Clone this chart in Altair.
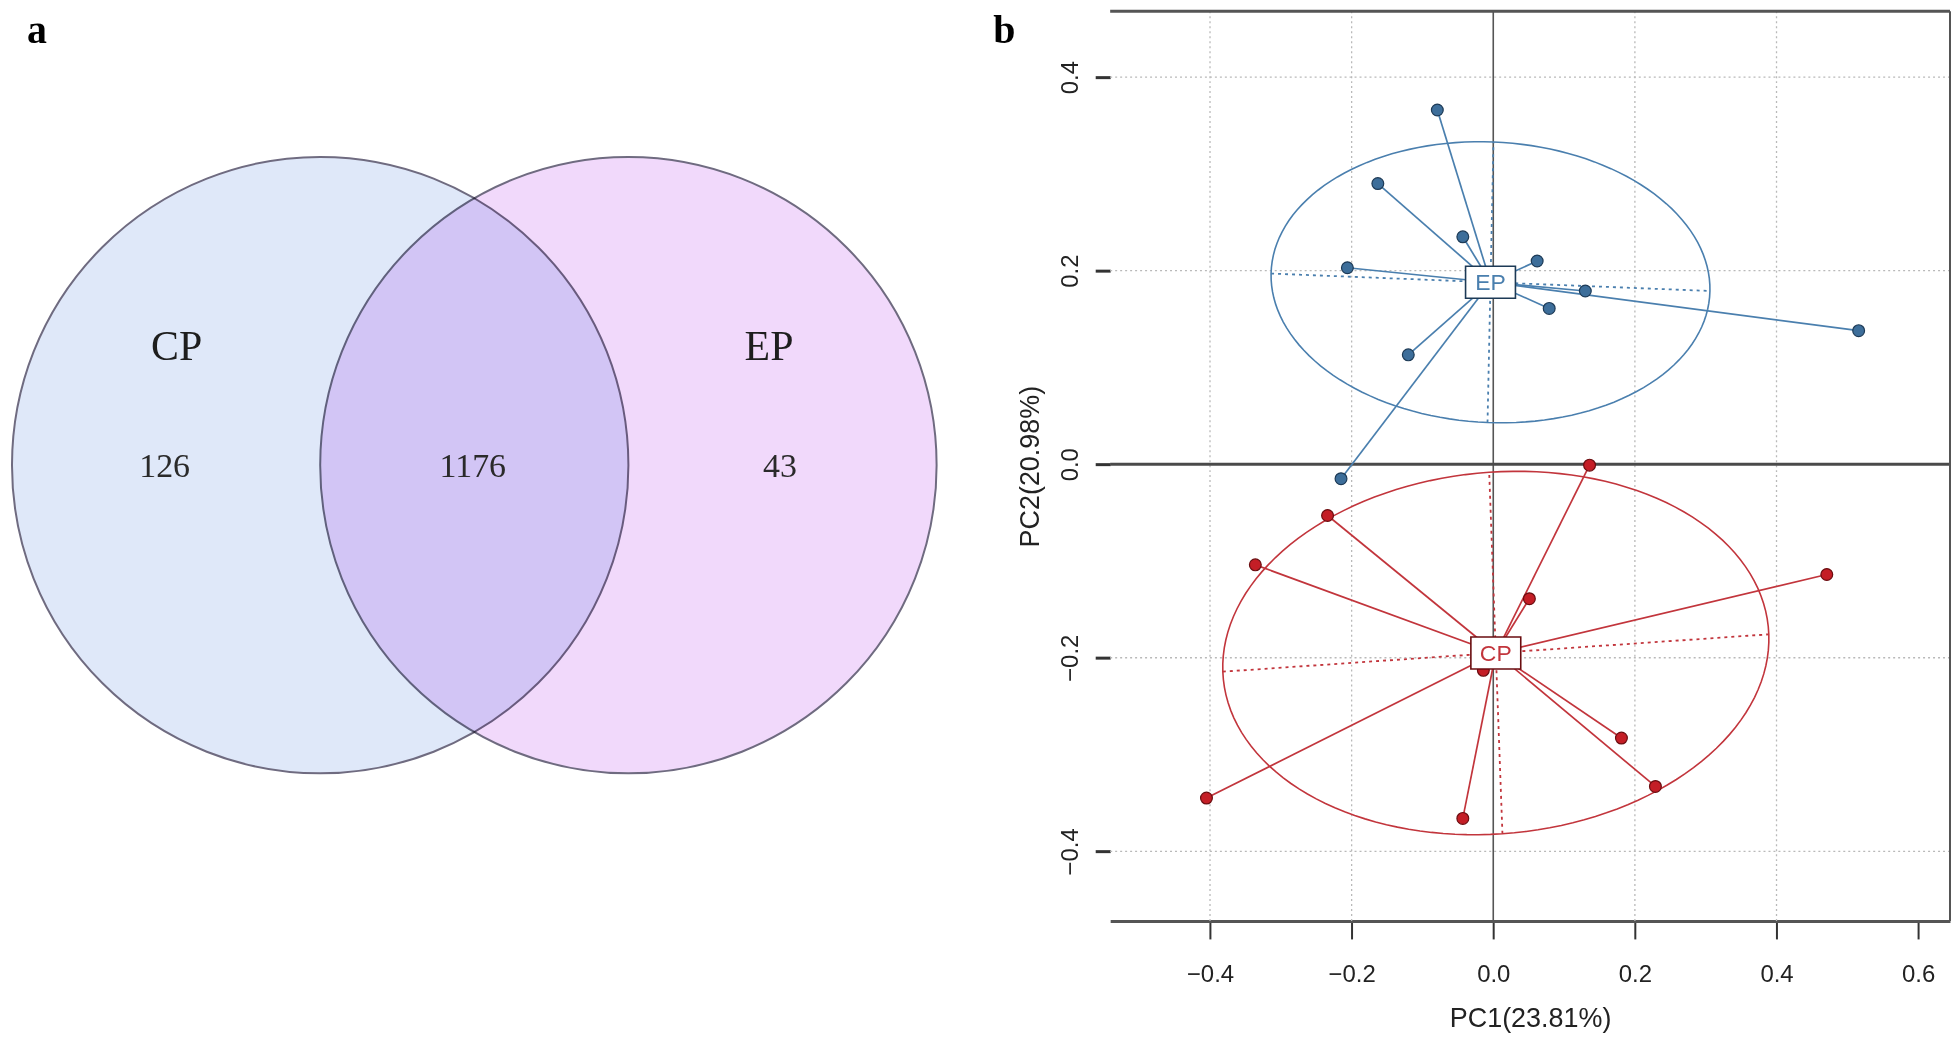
import altair as alt
import numpy as np
import pandas as pd

# ---------------- data: panel a (Venn) ----------------
venn_sets = ["CP", "EP"]
venn_unique = [126, 43]
venn_shared = 1176

# ---------------- data: panel b (PCA) ----------------
pc1_title = "PC1(23.81%)"
pc2_title = "PC2(20.98%)"
groups = ["EP", "CP"]
ep_pc1 = [-0.079, -0.163, -0.043, -0.206, 0.062, 0.130, 0.079, -0.120, 0.516, -0.215]
ep_pc2 = [0.366, 0.290, 0.235, 0.203, 0.210, 0.179, 0.161, 0.113, 0.138, -0.015]
cp_pc1 = [0.136, -0.234, -0.336, 0.051, 0.471, -0.014, 0.181, 0.229, -0.043, -0.405]
cp_pc2 = [-0.001, -0.053, -0.104, -0.139, -0.114, -0.213, -0.283, -0.333, -0.366, -0.345]
# ordiellipse: semi-axes (PC units) and tilt (radians)
ellipse_a = [0.31, 0.386]
ellipse_b = [0.145, 0.187]
ellipse_tilt = [-0.029, 0.05]
x_ticks = [-0.4, -0.2, 0.0, 0.2, 0.4, 0.6]
y_ticks = [-0.4, -0.2, 0.0, 0.2, 0.4]
grid_x = [-0.4, -0.2, 0.2, 0.4]
grid_y = [-0.4, -0.2, 0.2, 0.4]

# ---------------- styles ----------------
SANS = "Liberation Sans"
SERIF = "Liberation Serif"
line_col = {"EP": "#4a7fae", "CP": "#c2353c"}
pt_fill = {"EP": "#3d6e9a", "CP": "#c41e26"}
pt_stroke = {"EP": "#1d3a56", "CP": "#6a0d10"}

# ======================= panel a =======================
WA, HA = 950, 912
ax_a = alt.Scale(domain=[8, 8 + WA], nice=False, zero=False)
ay_a = alt.Scale(domain=[8 + HA, 8], nice=False, zero=False)
R = 309
circles = pd.DataFrame({
    "set": venn_sets,
    "cx": [318, 627],
    "cy": [463, 463],
    "fill": ["#dfe8f9", "#f1d9fb"],
})


def AX(f):
    return alt.X(f, type="quantitative", scale=ax_a, axis=None)


def AY(f):
    return alt.Y(f, type="quantitative", scale=ay_a, axis=None)


venn_circles = alt.Chart(circles).mark_point(
    shape="circle", filled=True, size=(2 * R) ** 2, opacity=1,
    stroke="#6f6b80", strokeWidth=2, blend="multiply"
).encode(
    x=AX("cx"), y=AY("cy"),
    fill=alt.Fill("fill:N", scale=None),
    order=alt.Order("cx:Q"),
)

set_labels = pd.DataFrame({"label": venn_sets, "x": [174, 768], "y": [345, 345]})
venn_set_text = alt.Chart(set_labels).mark_text(
    font=SERIF, fontSize=42, color="#1e1e1e", align="center", baseline="middle"
).encode(x=AX("x"), y=AY("y"), text="label:N")

counts = pd.DataFrame({
    "n": [venn_unique[0], venn_shared, venn_unique[1]],
    "x": [162, 471, 779],
    "y": [465, 465, 465],
})
venn_count_text = alt.Chart(counts).mark_text(
    font=SERIF, fontSize=34, color="#2a2a2a", align="center", baseline="middle"
).encode(x=AX("x"), y=AY("y"), text="n:N")

tags = pd.DataFrame({"tag": ["a", "b"], "x": [34, 1004], "y": [28, 28]})
tag_text = alt.Chart(tags).mark_text(
    font=SERIF, fontSize=40, fontWeight="bold", color="#000", align="center", baseline="middle"
).encode(x=AX("x"), y=AY("y"), text="tag:N")

panel_a = alt.layer(venn_circles, venn_set_text, venn_count_text, tag_text).properties(
    width=WA, height=HA
)

# ======================= panel b =======================
WB, HB = 842, 912
xs = alt.Scale(domain=[-0.541, 0.645], nice=False, zero=False)
ys = alt.Scale(domain=[-0.472, 0.468], nice=False, zero=False)

xaxis = alt.Axis(
    values=x_ticks, format=".1f", title=pc1_title, grid=False,
    domain=True, domainColor="#555555", domainWidth=3,
    ticks=True, tickSize=18, tickWidth=2, tickColor="#333333",
    labelFont=SANS, labelFontSize=24, labelColor="#222222", labelPadding=24,
    labelFlush=False, labelOverlap=False,
    titleFont=SANS, titleFontSize=27, titleFontWeight="normal", titleColor="#222222",
    titlePadding=19,
)
yaxis = alt.Axis(
    values=y_ticks, format=".1f", title=pc2_title, grid=False,
    domain=False, ticks=True, tickSize=15, tickWidth=3, tickColor="#333333",
    labelFont=SANS, labelFontSize=24, labelColor="#222222", labelPadding=13,
    labelAngle=-90, labelAlign="center", labelBaseline="bottom",
    labelFlush=False, labelOverlap=False,
    titleFont=SANS, titleFontSize=27, titleFontWeight="normal", titleColor="#222222",
    titlePadding=14,
)


def BX(f):
    return alt.X(f, type="quantitative", scale=xs, axis=xaxis)


def BY(f):
    return alt.Y(f, type="quantitative", scale=ys, axis=yaxis)


pts = pd.DataFrame({
    "group": ["EP"] * len(ep_pc1) + ["CP"] * len(cp_pc1),
    "x": ep_pc1 + cp_pc1,
    "y": ep_pc2 + cp_pc2,
})
cent = pts.groupby("group", sort=False)[["x", "y"]].mean().reset_index()
cent = cent.rename(columns={"x": "cx", "y": "cy"})
spider = pts.merge(cent, on="group")

# ellipse outlines and their axes
ell_rows, axis_rows = [], []
t = np.linspace(0, 2 * np.pi, 145)
for gi, g in enumerate(groups):
    c = cent[cent.group == g].iloc[0]
    a, b, th = ellipse_a[gi], ellipse_b[gi], ellipse_tilt[gi]
    ex = c.cx + a * np.cos(th) * np.cos(t) - b * np.sin(th) * np.sin(t)
    ey = c.cy + a * np.sin(th) * np.cos(t) + b * np.cos(th) * np.sin(t)
    for i, (u, v) in enumerate(zip(ex, ey)):
        ell_rows.append({"group": g, "i": i, "x": u, "y": v})
    axis_rows.append({"group": g, "x": c.cx - a * np.cos(th), "y": c.cy - a * np.sin(th),
                      "x2": c.cx + a * np.cos(th), "y2": c.cy + a * np.sin(th)})
    axis_rows.append({"group": g, "x": c.cx + b * np.sin(th), "y": c.cy - b * np.cos(th),
                      "x2": c.cx - b * np.sin(th), "y2": c.cy + b * np.cos(th)})
ell = pd.DataFrame(ell_rows)
ell_axes = pd.DataFrame(axis_rows)

col_scale = alt.Scale(domain=groups, range=[line_col[g] for g in groups])
fill_scale = alt.Scale(domain=groups, range=[pt_fill[g] for g in groups])
stroke_scale = alt.Scale(domain=groups, range=[pt_stroke[g] for g in groups])

grid_v = alt.Chart(pd.DataFrame({"x": grid_x})).mark_rule(
    color="#b9b9b9", strokeWidth=1.3, strokeDash=[2, 3]
).encode(x=BX("x"))
grid_h = alt.Chart(pd.DataFrame({"y": grid_y})).mark_rule(
    color="#b9b9b9", strokeWidth=1.3, strokeDash=[2, 3]
).encode(y=BY("y"))
zero_v = alt.Chart(pd.DataFrame({"x": [0.0]})).mark_rule(
    color="#555555", strokeWidth=1.6
).encode(x=BX("x"))
zero_h = alt.Chart(pd.DataFrame({"y": [0.0]})).mark_rule(
    color="#4a4a4a", strokeWidth=3
).encode(y=BY("y"))

ell_axis_layer = alt.Chart(ell_axes).mark_rule(strokeWidth=1.8, strokeDash=[3, 4]).encode(
    x=BX("x"), y=BY("y"), x2="x2:Q", y2="y2:Q",
    color=alt.Color("group:N", scale=col_scale, legend=None),
)
ell_layer = alt.Chart(ell).mark_line(strokeWidth=1.6).encode(
    x=BX("x"), y=BY("y"), order="i:Q",
    color=alt.Color("group:N", scale=col_scale, legend=None),
    detail="group:N",
)
spider_layer = alt.Chart(spider).mark_rule(strokeWidth=1.7).encode(
    x=BX("cx"), y=BY("cy"), x2="x:Q", y2="y:Q",
    color=alt.Color("group:N", scale=col_scale, legend=None),
)
point_layer = alt.Chart(pts).mark_point(
    shape="circle", filled=True, size=140, opacity=1, strokeWidth=1.2
).encode(
    x=BX("x"), y=BY("y"),
    fill=alt.Fill("group:N", scale=fill_scale, legend=None),
    stroke=alt.Stroke("group:N", scale=stroke_scale, legend=None),
)
box_layer = alt.Chart(cent).mark_point(
    shape="M-1.5625,-1H1.5625V1H-1.5625Z", size=1024, filled=True,
    fill="white", opacity=1, strokeWidth=1.6
).encode(
    x=BX("cx"), y=BY("cy"),
    stroke=alt.Stroke("group:N", scale=col_scale, legend=None),
)
label_layer = alt.Chart(cent).mark_text(
    font=SANS, fontSize=23, align="center", baseline="middle", dy=1
).encode(
    x=BX("cx"), y=BY("cy"), text="group:N",
    color=alt.Color("group:N", scale=col_scale, legend=None),
)
frame_top = alt.Chart(pd.DataFrame({"k": [0]})).mark_rule(color="#555555", strokeWidth=3).encode(
    x=alt.value(0), x2=alt.value(WB), y=alt.value(0)
)
frame_right = alt.Chart(pd.DataFrame({"k": [0]})).mark_rule(color="#555555", strokeWidth=2).encode(
    x=alt.value(WB), y=alt.value(0), y2=alt.value(HB)
)

panel_b = alt.layer(
    grid_v, grid_h, zero_v, zero_h, ell_axis_layer, ell_layer, spider_layer,
    point_layer, box_layer, label_layer, frame_top, frame_right
).properties(width=WB, height=HB)

chart = alt.hconcat(panel_a, panel_b, spacing=152, bounds="flush").properties(
    padding={"left": 0, "top": 0, "right": 0, "bottom": 0}, background="white"
).configure_view(stroke=None)

chart.save("out.html", embed_options={"renderer": "svg", "actions": False})
